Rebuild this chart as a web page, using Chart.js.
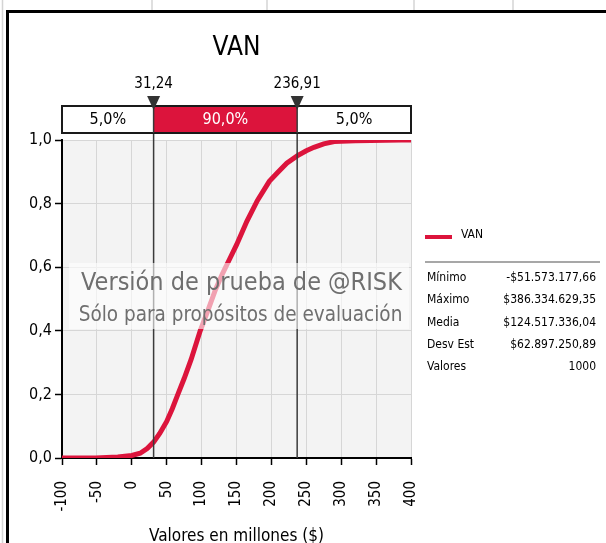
<!DOCTYPE html>
<html>
<head>
<meta charset="utf-8">
<script src="https://cdn.jsdelivr.net/npm/chart.js@4.4.1/dist/chart.umd.min.js"></script>
<style>
  html, body { margin: 0; padding: 0; background: #fff; overflow: hidden; }
</style>
</head>
<body>
<canvas id="chart" width="606" height="543"></canvas>
<script>
// cumulative distribution of VAN (millions $)
var vanValues = [-100, -52, -20, 0, 12, 22, 31.24, 40, 50, 58, 66, 75, 85, 98, 110, 120, 130, 140, 150, 165, 180, 197, 210, 222, 236.91, 250, 261, 275, 290, 320, 386, 400];
var cumProb   = [0, 0, 0.003, 0.008, 0.015, 0.03, 0.05, 0.077, 0.115, 0.155, 0.2, 0.25, 0.31, 0.4, 0.47, 0.53, 0.58, 0.625, 0.67, 0.745, 0.81, 0.87, 0.9, 0.927, 0.95, 0.966, 0.977, 0.988, 0.995, 0.998, 1, 1];
var xTicks = [-100, -50, 0, 50, 100, 150, 200, 250, 300, 350, 400];
var yTicks = [0, 0.2, 0.4, 0.6, 0.8, 1.0];
var bandEdges = [31.24, 236.91];
var bandEdgeLabels = ['31,24', '236,91'];
var bandLabels = ['5,0%', '90,0%', '5,0%'];
var statNames = ['Mínimo', 'Máximo', 'Media', 'Desv Est', 'Valores'];
var statValues = ['-$51.573.177,66', '$386.334.629,35', '$124.517.336,04', '$62.897.250,89', '1000'];

var RED = '#dc143c';
var FONT = '"DejaVu Sans Condensed", "DejaVu Sans", sans-serif';

var points = vanValues.map(function(v, i) { return { x: v, y: cumProb[i] }; });

// background, plot area fill, spreadsheet lines
var backPlugin = {
    id: 'back',
    beforeDraw: function(chart) {
        var ctx = chart.ctx, a = chart.chartArea;
        ctx.save();
        ctx.fillStyle = '#fff';
        ctx.fillRect(0, 0, chart.width, chart.height);
        ctx.fillStyle = '#f3f3f3';
        ctx.fillRect(a.left, a.top, a.right - a.left, a.bottom - a.top);
        ctx.strokeStyle = '#d4d4d4';
        ctx.lineWidth = 1.5;
        [152, 267, 414, 513].forEach(function(x) {
            ctx.beginPath(); ctx.moveTo(x, 0); ctx.lineTo(x, 11); ctx.stroke();
        });
        ctx.beginPath(); ctx.moveTo(2.5, 0); ctx.lineTo(2.5, chart.height); ctx.stroke();
        ctx.strokeStyle = '#dcdcdc';
        ctx.lineWidth = 1;
        ctx.beginPath(); ctx.moveTo(a.right + 0.5, a.top); ctx.lineTo(a.right + 0.5, a.bottom); ctx.stroke();
        ctx.restore();
    }
};

// percentile lines, trial watermark, band, title, legend and stats
var overPlugin = {
    id: 'over',
    afterDatasetsDraw: function(chart) {
        var ctx = chart.ctx, a = chart.chartArea, xs = chart.scales.x;
        ctx.save();
        ctx.strokeStyle = '#3a3a3a';
        ctx.lineWidth = 1.5;
        bandEdges.forEach(function(v) {
            var px = xs.getPixelForValue(v);
            ctx.beginPath(); ctx.moveTo(px, a.top - 34); ctx.lineTo(px, a.bottom); ctx.stroke();
        });
        // watermark
        var cx = (a.left + a.right) / 2;
        ctx.fillStyle = 'rgba(255,255,255,0.6)';
        ctx.fillRect(a.left + 7, 263, a.right - a.left - 9, 66);
        ctx.fillStyle = '#6f6f6f';
        ctx.textAlign = 'center';
        ctx.textBaseline = 'middle';
        ctx.font = '25px ' + FONT;
        ctx.fillText('Versión de prueba de @RISK', cx + 5, 283);
        ctx.font = '20.5px ' + FONT;
        ctx.fillText('Sólo para propósitos de evaluación', cx + 4, 316);
        ctx.restore();
    },
    afterDraw: function(chart) {
        var ctx = chart.ctx, a = chart.chartArea, xs = chart.scales.x;
        var cx = (a.left + a.right) / 2;
        var p1 = xs.getPixelForValue(bandEdges[0]);
        var p2 = xs.getPixelForValue(bandEdges[1]);
        var bTop = 106, bBot = 133;
        ctx.save();
        // title
        ctx.fillStyle = '#000';
        ctx.textAlign = 'center';
        ctx.textBaseline = 'middle';
        ctx.font = '26px ' + FONT;
        ctx.fillText('VAN', cx, 48);
        // band
        ctx.fillStyle = '#fff';
        ctx.fillRect(a.left, bTop, a.right - a.left, bBot - bTop);
        ctx.fillStyle = RED;
        ctx.fillRect(p1, bTop, p2 - p1, bBot - bTop);
        ctx.strokeStyle = '#1a1a1a';
        ctx.lineWidth = 2;
        ctx.strokeRect(a.left, bTop, a.right - a.left, bBot - bTop);
        ctx.lineWidth = 1.5;
        ctx.strokeStyle = '#3a3a3a';
        [p1, p2].forEach(function(px) {
            ctx.beginPath(); ctx.moveTo(px, bTop); ctx.lineTo(px, bBot); ctx.stroke();
        });
        ctx.font = '16px ' + FONT;
        var mids = [(a.left + p1) / 2, (p1 + p2) / 2, (p2 + a.right) / 2];
        bandLabels.forEach(function(t, i) {
            ctx.fillStyle = i === 1 ? '#fff' : '#000';
            ctx.fillText(t, mids[i], 120);
        });
        // markers
        ctx.font = '15px ' + FONT;
        [p1, p2].forEach(function(px, i) {
            ctx.fillStyle = '#333';
            ctx.beginPath();
            ctx.moveTo(px - 6.5, 96); ctx.lineTo(px + 6.5, 96); ctx.lineTo(px, 110);
            ctx.closePath(); ctx.fill();
            ctx.fillStyle = '#000';
            ctx.fillText(bandEdgeLabels[i], px, 84);
        });
        // legend
        ctx.fillStyle = RED;
        ctx.fillRect(425, 235, 27, 4);
        ctx.fillStyle = '#000';
        ctx.textAlign = 'left';
        ctx.font = '12px ' + FONT;
        ctx.fillText('VAN', 461, 235);
        ctx.strokeStyle = '#8a8a8a';
        ctx.lineWidth = 1.5;
        ctx.beginPath(); ctx.moveTo(425, 262); ctx.lineTo(600, 262); ctx.stroke();
        // stats
        ctx.font = '12px ' + FONT;
        statNames.forEach(function(n, i) {
            var y = 278 + i * 22.2;
            ctx.textAlign = 'left';
            ctx.fillText(n, 427, y);
            ctx.textAlign = 'right';
            ctx.fillText(statValues[i], 596, y);
        });
        // frame
        ctx.strokeStyle = '#000';
        ctx.lineWidth = 3;
        ctx.beginPath();
        ctx.moveTo(7.5, chart.height); ctx.lineTo(7.5, 11.5); ctx.lineTo(chart.width, 11.5);
        ctx.stroke();
        ctx.restore();
    }
};

var ctx = document.getElementById('chart').getContext('2d');
var myChart = new Chart(ctx, {
    type: 'line',
    data: {
        datasets: [{
            label: 'VAN',
            data: points,
            borderColor: RED,
            borderWidth: 5,
            pointRadius: 0,
            tension: 0,
            fill: false
        }]
    },
    options: {
        responsive: false,
        animation: false,
        devicePixelRatio: 1,
        layout: { padding: { top: 140, right: 195, left: 0, bottom: 0 } },
        plugins: {
            legend: { display: false },
            tooltip: { enabled: false },
            title: { display: false }
        },
        scales: {
            x: {
                type: 'linear',
                min: -100,
                max: 400,
                afterBuildTicks: function(scale) {
                    scale.ticks = xTicks.map(function(v) { return { value: v }; });
                },
                afterFit: function(scale) { scale.height = 85; },
                ticks: {
                    minRotation: 90,
                    maxRotation: 90,
                    padding: 16,
                    color: '#000',
                    font: { family: FONT, size: 15 },
                    callback: function(v) { return String(v); }
                },
                grid: { color: '#d6d6d6', tickColor: '#000', tickLength: 7, tickWidth: 1.5 },
                border: { color: '#000', width: 2 },
                title: {
                    display: true,
                    text: 'Valores en millones ($)',
                    color: '#000',
                    font: { family: FONT, size: 17 },
                    padding: { top: 0, bottom: -4 }
                }
            },
            y: {
                min: 0,
                max: 1,
                afterBuildTicks: function(scale) {
                    scale.ticks = yTicks.map(function(v) { return { value: v }; });
                },
                afterFit: function(scale) { scale.width = 62; },
                ticks: {
                    padding: 3,
                    color: '#000',
                    font: { family: FONT, size: 16 },
                    callback: function(v) { return v.toFixed(1).replace('.', ','); }
                },
                grid: { color: '#d6d6d6', tickColor: '#000', tickLength: 7, tickWidth: 1.5 },
                border: { color: '#000', width: 2 }
            }
        }
    },
    plugins: [backPlugin, overPlugin]
});
</script>
</body>
</html>
